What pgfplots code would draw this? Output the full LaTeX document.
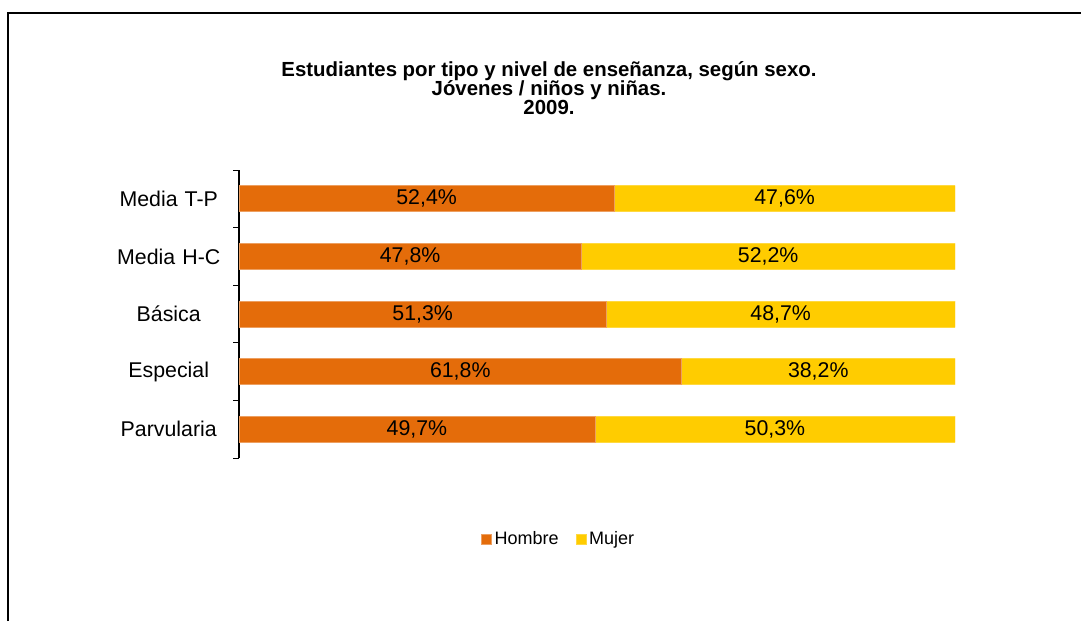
\documentclass[border=0pt]{standalone}
\usepackage{pgfplots}
\usepackage{pgfplotstable}
\pgfplotsset{compat=1.18}
\usepackage{fontspec}
\setmainfont{Liberation Sans}

\definecolor{hombre}{HTML}{E46C0A}
\definecolor{mujer}{HTML}{FFCC00}

% y: 0 = Parvularia ... 4 = Media T-P
\pgfplotstableread{
y h m hc mc hl ml
0 49.7 50.3 24.85 74.85 49,7\% 50,3\%
1 61.8 38.2 30.90 80.90 61,8\% 38,2\%
2 51.3 48.7 25.65 75.65 51,3\% 48,7\%
3 47.8 52.2 23.90 73.90 47,8\% 52,2\%
4 52.4 47.6 26.20 76.20 52,4\% 47,6\%
}\datos

\begin{document}
\begin{tikzpicture}[x=0.75pt,y=0.75pt]
\useasboundingbox (0,0) rectangle (1081,621);
\draw[line width=1.5pt] (8,0) -- (8,608) -- (1081,608);

\node[align=center, font=\bfseries\fontsize{15.3}{14.5}\selectfont] at (549,533)
  {Estudiantes por tipo y nivel de enseñanza, según sexo.\\Jóvenes / niños y niñas.\\2009.};

\pgfplotsset{base/.style={
  at={(179.25pt,122.25pt)}, anchor=south west,
  scale only axis, width=537pt, height=216pt,
  xmin=0, xmax=100, ymin=-0.5, ymax=4.5}}

\begin{axis}[base,
  xbar stacked, bar width=19.5pt,
  hide x axis, axis y line*=left,
  y axis line style={line width=0.8pt, -},
  ytick={0,1,2,3,4},
  yticklabels={Parvularia,Especial,Básica,Media H-C,Media T-P},
  major tick length=0pt,
  minor ytick={-0.5,0.5,1.5,2.5,3.5,4.5},
  minor tick length=4.5pt, tick align=outside,
  minor tick style={black, line width=0.6pt},
  yticklabel style={font=\fontsize{16}{19}\selectfont, text width=90pt, align=center, inner sep=0pt, anchor=east, xshift=-7.5pt},
  legend style={at={(0.447,-0.281)}, anchor=center, draw=none, legend columns=2,
    font=\fontsize{13.5}{16}\selectfont,
    /tikz/every even column/.append style={column sep=11pt}},
  legend image code/.code={\fill[#1] (0pt,-3.75pt) rectangle (7.5pt,3.75pt);},
]
\addplot[fill=hombre, draw=hombre!65!white, line width=0.5pt] table[x=h, y=y] {\datos};
\addlegendentry{Hombre}
\addplot[fill=mujer, draw=mujer!75!white, line width=0.5pt] table[x=m, y=y] {\datos};
\addlegendentry{Mujer}
\end{axis}

\begin{axis}[base, hide axis,
  nodes near coords, point meta=explicit symbolic,
  nodes near coords style={anchor=center, font=\fontsize{16}{19}\selectfont, text=black}]
\addplot[only marks, mark=none] table[x=hc, y=y, meta=hl] {\datos};
\addplot[only marks, mark=none] table[x=mc, y=y, meta=ml] {\datos};
\end{axis}
\end{tikzpicture}
\end{document}
